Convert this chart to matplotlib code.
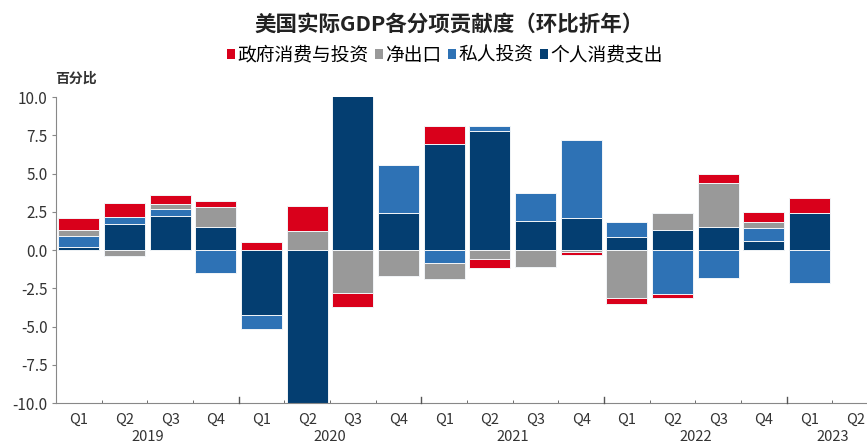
import matplotlib
matplotlib.use("Agg")
import matplotlib.pyplot as plt
from matplotlib.patches import Patch
import numpy as np

plt.rcParams['font.family'] = ['Noto Sans CJK SC', 'DejaVu Sans']
plt.rcParams['axes.unicode_minus'] = False

# Quarterly contributions to US real GDP growth (annualized, percentage points)
years = ["2019", "2020", "2021", "2022", "2023"]
quarter_labels = ["Q1", "Q2", "Q3", "Q4"] * 4 + ["Q1", "Q2"]
series_names = ["政府消费与投资", "净出口", "私人投资", "个人消费支出"]

consumption = [0.2, 1.7, 2.2, 1.5, -4.25, -24.0, 25.5, 2.45, 6.9, 7.8, 1.9, 2.07,
               0.85, 1.3, 1.5, 0.6, 2.45]
private_inv = [0.7, 0.45, 0.5, -1.5, -0.9, -8.8, 12.0, 3.1, -0.83, 0.28, 1.8, 5.15,
               0.95, -2.85, -1.83, 0.83, -2.15]
net_exports = [0.4, -0.4, 0.28, 1.33, 0.0, 1.25, -2.8, -1.7, -1.07, -0.6, -1.13, -0.1,
               -3.15, 1.15, 2.85, 0.43, 0.0]
government = [0.8, 0.9, 0.6, 0.4, 0.55, 1.6, -0.95, 0.0, 1.2, -0.6, 0.0, -0.25,
              -0.4, -0.3, 0.65, 0.65, 0.95]

c_red = "#d9001b"
c_gray = "#999999"
c_blue = "#2e72b5"
c_navy = "#043e71"

fig = plt.figure(figsize=(8.67, 4.44), dpi=100)
ax = fig.add_axes([56 / 867, 1 - 403 / 444, 822 / 867, (403 - 97) / 444])

x = np.arange(len(consumption))
pos_base = np.zeros(len(x))
neg_base = np.zeros(len(x))
# stacking order from the zero line outward
for vals, col in [(consumption, c_navy), (private_inv, c_blue),
                  (net_exports, c_gray), (government, c_red)]:
    v = np.array(vals, dtype=float)
    base = np.where(v >= 0, pos_base, neg_base)
    ax.bar(x, v, bottom=base, width=0.9, color=col, edgecolor="#f2f5f8",
           linewidth=0.7, zorder=2)
    pos_base += np.where(v >= 0, v, 0)
    neg_base += np.where(v < 0, v, 0)

ax.set_xlim(-0.5, 17.5)
ax.set_ylim(-10, 10)
ax.set_yticks(np.arange(-10, 10.01, 2.5))
ax.set_yticklabels([f"{t:.1f}" for t in np.arange(-10, 10.01, 2.5)])

ax.set_xticks(np.arange(len(quarter_labels)))
ax.set_xticklabels(quarter_labels)
ax.tick_params(axis="x", which="major", length=0, pad=7, labelsize=10.5,
               labelcolor="#333333")
ax.set_xticks(np.arange(0.5, 17.5, 1), minor=True)
ax.tick_params(axis="x", which="minor", direction="in", length=2,
               color="#555555")
for b in [3.5, 7.5, 11.5, 15.5]:
    ax.plot([b, b], [-10, -9.6], color="#555555", lw=1.0, zorder=3,
            clip_on=False)
ax.tick_params(axis="y", direction="out", length=3, color="#888888",
               labelsize=11, labelcolor="#333333", pad=3)

for s in ["top", "right"]:
    ax.spines[s].set_visible(False)
ax.spines["left"].set_color("#888888")
ax.spines["bottom"].set_color("#888888")

for i, yr in enumerate(years):
    cx = 1.5 + 4 * i if i < 4 else 16.5
    ax.text(cx, -12.2, yr, ha="center", va="center", fontsize=10.5,
            color="#333333", transform=ax.transData)

fig.text(449 / 867, 1 - 24 / 444, "美国实际GDP各分项贡献度（环比折年）", ha="center",
         va="center", fontsize=15.5, fontweight="bold", color="#222222")
fig.text(55 / 867, 1 - 79 / 444, "百分比", ha="left", va="center", fontsize=10,
         fontweight="bold", color="#333333")

handles = [Patch(facecolor=c, edgecolor="none") for c in [c_red, c_gray, c_blue, c_navy]]
fig.legend(handles, series_names, loc="center", bbox_to_anchor=(445 / 867, 1 - 55 / 444),
           ncol=4, frameon=False, fontsize=13.5, handlelength=0.4, handleheight=0.4,
           handletextpad=0.15, columnspacing=0.35, borderaxespad=0)

fig.savefig("out.png", dpi=100)
